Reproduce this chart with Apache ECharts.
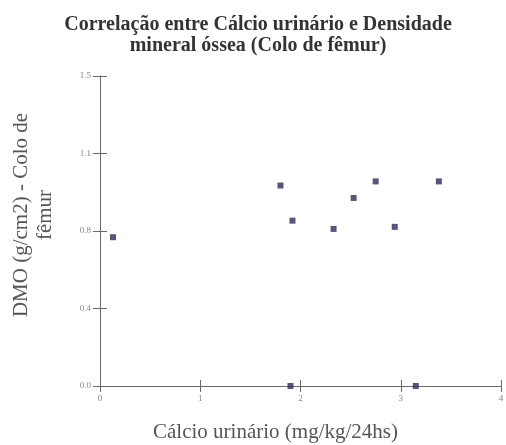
<!DOCTYPE html>
<html><head><meta charset="utf-8">
<script src="https://cdn.jsdelivr.net/npm/echarts@6/dist/echarts.min.js"></script>
<style>html,body{margin:0;padding:0;background:#fff}#c{width:506px;height:445px}</style>
</head><body><div id="c"></div>
<script>
var calcio = [0.13, 1.80, 1.92, 2.33, 2.53, 2.75, 2.94, 3.38, 1.90, 3.15];
var dmo    = [0.72, 0.97, 0.80, 0.76, 0.91, 0.99, 0.77, 0.99, 0.00, 0.00];
var titleText = 'Correlação entre Cálcio urinário e Densidade\nmineral óssea (Colo de fêmur)';
var xName = 'Cálcio urinário (mg/kg/24hs)';
var yName = 'DMO (g/cm2) - Colo de\nfêmur';

var pts = calcio.map(function(v,i){return [v, dmo[i]];});
var serif = '"Liberation Serif", "DejaVu Serif", serif';
var axisCol = '#6a6a6a';
function yFmt(v){ return v.toFixed(1); }

var chart = echarts.init(document.getElementById('c'));
chart.setOption({
  animation:false,
  title:{text:titleText,left:253,textAlign:'center',top:9,
    textStyle:{fontFamily:serif,fontSize:20,fontWeight:'bold',color:'#333',lineHeight:21}},
  grid:{left:100,right:5,top:76,bottom:59,containLabel:false,outerBoundsMode:'none'},
  xAxis:[{type:'value',min:0,max:4,interval:1,
    name:xName,nameLocation:'middle',nameGap:36,
    nameTextStyle:{fontFamily:serif,fontSize:21,color:'#555',padding:[0,50,0,0]},
    axisLine:{lineStyle:{color:axisCol}},
    axisTick:{length:6,lineStyle:{color:axisCol}},
    axisLabel:{fontFamily:serif,fontSize:9,color:'#888',margin:8},
    splitLine:{show:false}},
   {type:'value',min:0,max:4,interval:1,position:'bottom',
    axisLine:{show:false},axisTick:{inside:true,length:6,lineStyle:{color:axisCol}},
    axisLabel:{show:false},splitLine:{show:false}}],
  yAxis:[{type:'value',min:0,max:1.5,interval:0.375,
    name:yName,nameLocation:'middle',nameGap:43,nameRotate:90,
    nameTextStyle:{fontFamily:serif,fontSize:21,color:'#555',lineHeight:24,padding:[0,0,0,32]},
    axisLine:{show:true,lineStyle:{color:axisCol}},
    axisTick:{show:true,length:7,lineStyle:{color:axisCol}},
    axisLabel:{fontFamily:serif,fontSize:9,color:'#888',margin:9,formatter:yFmt},
    splitLine:{show:false}},
   {type:'value',min:0,max:1.5,interval:0.375,position:'left',
    axisLine:{show:false},axisTick:{show:true,inside:true,length:7,lineStyle:{color:axisCol}},
    axisLabel:{show:false},splitLine:{show:false}}],
  series:[{type:'scatter',data:pts,symbol:'rect',symbolSize:6,
    itemStyle:{color:'#2b2b5e'}}]
});
</script></body></html>
